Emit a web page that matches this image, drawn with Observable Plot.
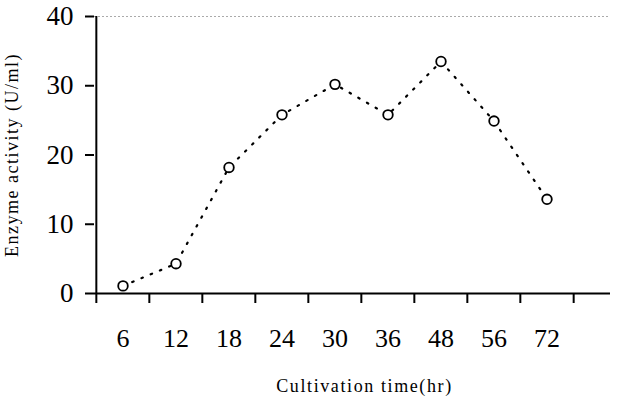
<!DOCTYPE html>
<html>
<head>
<meta charset="utf-8">
<script src="https://cdn.jsdelivr.net/npm/d3@7"></script>
<script src="https://cdn.jsdelivr.net/npm/@observablehq/plot@0.6"></script>
<style>
  body { margin: 0; background: #fff; }
</style>
</head>
<body>
<div id="chart"></div>
<script>
const hours = ["6", "12", "18", "24", "30", "36", "48", "56", "72"];
const activity = [1.1, 4.3, 18.2, 25.8, 30.2, 25.8, 33.5, 24.9, 13.6];
const yTicks = [0, 10, 20, 30, 40];
const xTitle = "Cultivation time(hr)";
const yTitle = "Enzyme activity (U/ml)";

const data = hours.map((h, i) => ({hour: h, value: activity[i]}));

const xRange = [94, 574];
const bw = (xRange[1] - xRange[0]) / hours.length;

const chart = Plot.plot({
  width: 625,
  height: 400,
  marginLeft: 94,
  marginRight: 15,
  marginTop: 16,
  marginBottom: 107,
  style: {fontFamily: "'Liberation Serif', 'Times New Roman', serif", background: "white", color: "black"},
  x: {type: "band", domain: hours, range: xRange, padding: 0, axis: null},
  y: {domain: [0, 40], axis: null},
  marks: [
    Plot.ruleY([40], {stroke: "#aaa", strokeDasharray: "2,2", strokeWidth: 1}),
    Plot.axisY(yTicks, {tickSize: 9, tickPadding: 12, fontSize: 27, strokeWidth: 2, label: null}),
    Plot.axisX(hours, {tickSize: 10, tickFormat: () => "", dx: -bw / 2, strokeWidth: 2, label: null}),
    Plot.axisX([hours[hours.length - 1]], {tickSize: 10, tickFormat: () => "", dx: bw / 2, strokeWidth: 2, label: null}),
    Plot.axisX(hours, {tickSize: 0, tickPadding: 35, fontSize: 26, label: null}),
    Plot.ruleY([0], {strokeWidth: 2}),
    Plot.ruleX([hours[0]], {y1: 0, y2: 40, dx: -bw / 2, strokeWidth: 2}),
    Plot.line(data, {x: "hour", y: "value", stroke: "black", strokeWidth: 2.2, strokeDasharray: "1.5,8.5"}),
    Plot.dot(data, {x: "hour", y: "value", r: 4.8, stroke: "black", strokeWidth: 1.8, fill: "white"}),
    Plot.text([yTitle], {frameAnchor: "left", textAnchor: "middle", rotate: -90, dx: -82, fontSize: 18, lineAnchor: "middle"}),
    Plot.text([xTitle], {frameAnchor: "bottom", textAnchor: "middle", dx: 12, dy: 93, fontSize: 18, lineAnchor: "middle"})
  ]
});

d3.select(chart).selectAll("text").each(function() {
  const t = this.textContent;
  if (t === xTitle) d3.select(this).style("letter-spacing", "1.6px");
  if (t === yTitle) d3.select(this).style("letter-spacing", "1.5px");
});

document.getElementById("chart").appendChild(chart);
</script>
</body>
</html>
